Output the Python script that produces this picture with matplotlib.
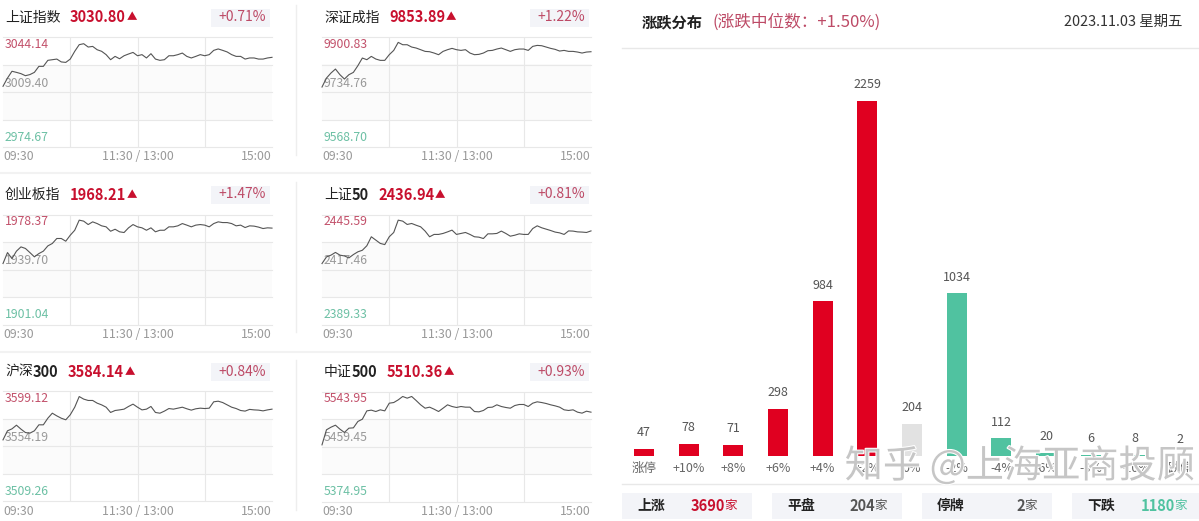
import matplotlib
matplotlib.use("Agg")
import matplotlib.pyplot as plt
import matplotlib.patheffects as pe

plt.rcParams['font.family'] = ['Noto Sans CJK SC', 'DejaVu Sans']

W, H = 1199, 521

# minutes of trading, 09:30 -> 15:00
minutes = list(range(0, 241, 4))

sh_index = [3013.0, 3018.2, 3022.5, 3021.8, 3021.0, 3019.7, 3020.4, 3021.8, 3025.6, 3025.6,
            3029.4, 3029.8, 3030.2, 3028.4, 3028.1, 3030.2, 3035.1, 3039.3, 3039.9, 3037.8,
            3038.2, 3036.1, 3035.1, 3033.0, 3029.8, 3031.9, 3030.4, 3032.3, 3033.4, 3034.4,
            3032.3, 3033.0, 3030.9, 3033.6, 3030.2, 3029.4, 3029.8, 3032.3, 3032.3, 3033.0,
            3034.0, 3031.9, 3030.9, 3031.9, 3033.0, 3032.3, 3033.0, 3035.7, 3036.6, 3035.7,
            3034.7, 3033.0, 3031.9, 3031.9, 3030.2, 3030.9, 3030.9, 3030.2, 3030.2, 3030.9,
            3031.3]
sz_index = [9749.8, 9776.9, 9792.0, 9804.1, 9787.0, 9773.9, 9787.0, 9794.0, 9814.2, 9837.3,
            9832.3, 9842.3, 9834.3, 9830.3, 9830.3, 9847.4, 9860.4, 9884.6, 9877.5, 9877.5,
            9870.5, 9867.5, 9862.5, 9857.4, 9856.4, 9852.4, 9847.4, 9857.4, 9862.5, 9866.5,
            9862.5, 9860.4, 9862.5, 9852.4, 9847.4, 9848.4, 9852.4, 9859.4, 9860.4, 9864.5,
            9867.5, 9862.5, 9857.4, 9862.5, 9864.5, 9864.5, 9860.4, 9872.5, 9875.5, 9874.5,
            9870.5, 9866.5, 9863.5, 9858.4, 9860.4, 9857.4, 9857.4, 9855.4, 9852.4, 9855.4,
            9856.4]
cyb_index = [1943.9, 1951.6, 1947.4, 1952.6, 1955.6, 1954.5, 1951.6, 1948.6, 1950.9, 1952.6,
             1956.3, 1958.0, 1961.5, 1961.5, 1959.6, 1963.8, 1967.3, 1974.4, 1973.7, 1971.3,
             1973.2, 1972.0, 1970.4, 1969.7, 1966.6, 1968.0, 1966.2, 1965.7, 1969.0, 1971.3,
             1969.7, 1969.0, 1967.3, 1969.0, 1966.2, 1967.3, 1967.3, 1969.7, 1969.7, 1970.4,
             1972.0, 1970.9, 1969.7, 1970.9, 1971.3, 1970.9, 1969.7, 1972.0, 1973.2, 1972.7,
             1972.7, 1972.0, 1970.4, 1970.9, 1969.2, 1970.4, 1970.2, 1969.5, 1968.5, 1969.0,
             1968.8]
sz50_index = [2420.5, 2423.9, 2424.8, 2426.2, 2424.8, 2424.4, 2423.4, 2425.1, 2426.5, 2427.3,
              2429.6, 2434.2, 2432.5, 2430.8, 2430.2, 2434.2, 2436.4, 2442.7, 2442.2, 2440.5,
              2441.0, 2440.1, 2439.3, 2437.1, 2434.2, 2435.4, 2435.4, 2435.9, 2436.7, 2437.6,
              2435.4, 2435.9, 2436.4, 2435.4, 2434.2, 2434.0, 2433.3, 2435.7, 2435.7, 2435.9,
              2437.1, 2435.9, 2434.5, 2435.0, 2435.7, 2435.4, 2435.4, 2438.4, 2439.8, 2438.8,
              2438.1, 2437.4, 2436.6, 2436.2, 2435.4, 2437.2, 2437.1, 2436.7, 2436.6, 2436.4,
              2437.2]
hs300_index = [3559.6, 3567.0, 3568.6, 3571.6, 3568.4, 3565.6, 3565.1, 3567.0, 3571.9, 3571.9,
               3577.3, 3581.4, 3579.2, 3577.3, 3576.0, 3580.1, 3586.3, 3595.0, 3592.9, 3591.8,
               3591.8, 3589.6, 3588.2, 3586.3, 3582.0, 3583.6, 3584.1, 3584.7, 3586.9, 3588.8,
               3586.3, 3584.1, 3584.7, 3586.9, 3582.0, 3581.4, 3583.1, 3585.2, 3584.7, 3585.5,
               3586.3, 3585.0, 3583.9, 3585.0, 3585.5, 3585.2, 3585.5, 3590.7, 3591.2, 3590.1,
               3588.2, 3586.3, 3585.2, 3583.6, 3583.1, 3584.5, 3584.1, 3583.9, 3583.3, 3584.1,
               3584.7]
zz500_index = [5462.0, 5485.1, 5489.1, 5492.2, 5486.1, 5481.0, 5487.6, 5488.1, 5497.9, 5501.4,
               5514.2, 5515.3, 5513.2, 5515.8, 5514.2, 5526.0, 5527.0, 5531.1, 5536.3, 5533.7,
               5536.3, 5530.1, 5523.5, 5518.3, 5519.9, 5516.8, 5513.2, 5518.3, 5523.5, 5520.9,
               5519.4, 5520.9, 5519.9, 5519.9, 5513.2, 5512.7, 5514.8, 5519.4, 5519.9, 5523.5,
               5520.9, 5519.4, 5518.3, 5522.4, 5524.0, 5524.0, 5520.9, 5526.0, 5528.1, 5527.0,
               5525.5, 5523.5, 5521.9, 5519.9, 5515.8, 5514.8, 5515.8, 5512.2, 5510.7, 5513.7,
               5512.2]

names = ['上证指数', '深证成指', '创业板指', '上证', '沪深', '中证']
name_digits = ['', '', '', '50', '300', '500']
last_prices = ['3030.80', '9853.89', '1968.21', '2436.94', '3584.14', '5510.36']
changes = ['+0.71%', '+1.22%', '+1.47%', '+0.81%', '+0.84%', '+0.93%']
highs = [3044.14, 9900.83, 1978.37, 2445.59, 3599.12, 5543.95]
mids = [3009.40, 9734.76, 1939.70, 2417.46, 3554.19, 5459.45]
lows = [2974.67, 9568.70, 1901.04, 2389.33, 3509.26, 5374.95]
series = [sh_index, sz_index, cyb_index, sz50_index, hs300_index, zz500_index]

# distribution chart
dist_labels = ['涨停', '+10%', '+8%', '+6%', '+4%', '+2%', '0%', '-2%', '-4%', '-6%', '-8%', '-10%', '跌停']
dist_counts = [47, 78, 71, 298, 984, 2259, 204, 1034, 112, 20, 6, 8, 2]
up_count, flat_count, halted_count, down_count = 3690, 204, 2, 1180

RED = '#c8102e'
BAR_RED = '#e00020'
TEAL = '#50c2a0'
PINK = '#bd4a66'
GRID = '#e8e8e8'
DARK = '#222222'

fig = plt.figure(figsize=(W / 100, H / 100), dpi=100, facecolor='white')


def px_axes(left, top, right, bottom, **kw):
    return fig.add_axes([left / W, 1 - bottom / H, (right - left) / W, (bottom - top) / H], **kw)


# overlay in pixel coords for headers, boxes and rules
ov = px_axes(0, 0, W, H, zorder=0)
ov.set_xlim(0, W)
ov.set_ylim(H, 0)
ov.axis('off')

col_x = [3, 322]
row_top = [37, 214.5, 391.5]
name_x = [5, 324]
price_x = [70, 389, 70, 378, 68, 387]

for i, name in enumerate(names):
    col = i % 2
    row = i // 2
    x0 = col_x[col]
    top = row_top[row]
    bottom = top + 110
    right = x0 + 269
    head_y = top - 19.5

    ov.text(name_x[col], head_y, name, fontsize=10, color=DARK, va='center')
    if name_digits[i]:
        ov.text(name_x[col] + 28, head_y, name_digits[i], fontsize=10.5, color=DARK, va='center', fontweight='bold')
    ov.text(price_x[i], head_y, last_prices[i], fontsize=10.5, color=RED, va='center', fontweight='bold')
    ov.text(price_x[i] + 57, head_y, '▲', fontsize=7.5, color=RED, va='center')
    ov.add_patch(plt.Rectangle((x0 + 208, head_y - 9), 59, 18, color='#f3f4f8', lw=0))
    ov.text(x0 + 263, head_y - 0.5, changes[i], fontsize=10, color=PINK, va='center', ha='right')

    ax = px_axes(x0, top, right, bottom, zorder=2)
    ax.set_xlim(0, 240)
    ax.set_ylim(lows[i], highs[i])
    ax.patch.set_alpha(0)
    step = (highs[i] - lows[i]) / 4
    ax.axhspan(lows[i] + step, highs[i] - step, color='#fbfbfb', lw=0, zorder=0)
    for k in range(5):
        ax.axhline(lows[i] + k * step, color=GRID, lw=0.8, clip_on=False, zorder=1)
    for m in (60, 120, 180):
        ax.axvline(m, color=GRID, lw=0.8, zorder=1)
    ax.axis('off')
    ax.text(2 / 269, 1 - 7 / 110, f'{highs[i]:.2f}', transform=ax.transAxes, fontsize=8.8, color='#c2506a', va='center', zorder=2)
    ax.text(2 / 269, 1 - 46 / 110, f'{mids[i]:.2f}', transform=ax.transAxes, fontsize=8.8, color='#999999', va='center', zorder=2)
    ax.text(2 / 269, 1 - 100 / 110, f'{lows[i]:.2f}', transform=ax.transAxes, fontsize=8.8, color='#6cc0a4', va='center', zorder=2)
    ax.plot(minutes, series[i], color='#555555', lw=0.8, zorder=3, clip_on=False)

    ov.text(x0, bottom + 10, '09:30', fontsize=8.8, color='#999999', va='center')
    ov.text(x0 + 135, bottom + 10, '11:30 / 13:00', fontsize=8.8, color='#999999', va='center', ha='center')
    ov.text(right, bottom + 10, '15:00', fontsize=8.8, color='#999999', va='center', ha='right')

# separators of the left block
for y0, y1 in ((5, 155), (182, 332), (360, 510)):
    ov.plot([296, 296], [y0, y1], color='#eeeeee', lw=1)
for y in (173, 352):
    ov.plot([0, 590], [y, y], color='#f2f2f2', lw=1.5)

# right block header
ov.text(642, 22, '涨跌分布', fontsize=11, color=DARK, va='center', fontweight='bold')
ov.text(713, 22, '(涨跌中位数：+1.50%)', fontsize=12, color=PINK, va='center')
ov.text(1182, 22, '2023.11.03 星期五', fontsize=10.4, color='#333333', va='center', ha='right')
ov.plot([622, W], [48, 48], color='#e8e8e8', lw=1)
ov.plot([622, W], [484, 484], color='#e8e8e8', lw=1)

# distribution bars
bar_step = 44.67
bax = px_axes(622, 60, W, 456, zorder=1)
bax.set_xlim((622 - 644) / bar_step, (W - 644) / bar_step)
bax.set_ylim(0, 396 / 0.1572)
bax.patch.set_alpha(0)
bax.axis('off')
bar_colors = [BAR_RED] * 6 + ['#e2e2e2'] + [TEAL] * 6
pos = list(range(len(dist_counts)))
bars = bax.bar(pos, dist_counts, width=20 / bar_step, color=bar_colors, lw=0)
bax.bar_label(bars, labels=[str(c) for c in dist_counts], padding=7, fontsize=9, color='#555555')
for p, lab in zip(pos, dist_labels):
    bax.annotate(lab, (p, 0), xytext=(0, -12 * 0.72), textcoords='offset points',
                 ha='center', va='center', fontsize=9, color='#666666', annotation_clip=False)

# summary boxes
boxes = [(622, '上涨', up_count, RED, 737),
         (772, '平盘', flat_count, '#555555', 887),
         (922, '停牌', halted_count, '#555555', 1037),
         (1072, '下跌', down_count, TEAL, 1187)]
for bx, label, count, c, right_edge in boxes:
    ov.add_patch(plt.Rectangle((bx, 493), min(130, W - bx), 26, color='#f3f4f8', lw=0))
    ov.text(bx + 15, 506, label, fontsize=10, color=DARK, va='center', fontweight='bold')
    ov.text(right_edge - 12, 506, str(count), fontsize=10.5, color=c, va='center', ha='right', fontweight='bold')
    ov.text(right_edge, 506, '家', fontsize=9, color=c, va='center', ha='right')

# watermark on top of everything
fig.text(1020 / W, 1 - 467 / H, '知乎 @上海亚商投顾', fontsize=27.5, color='#c6c6c6',
         ha='center', va='center', zorder=5,
         path_effects=[pe.withStroke(linewidth=1.5, foreground='white')])

fig.savefig('out.png', dpi=100)
